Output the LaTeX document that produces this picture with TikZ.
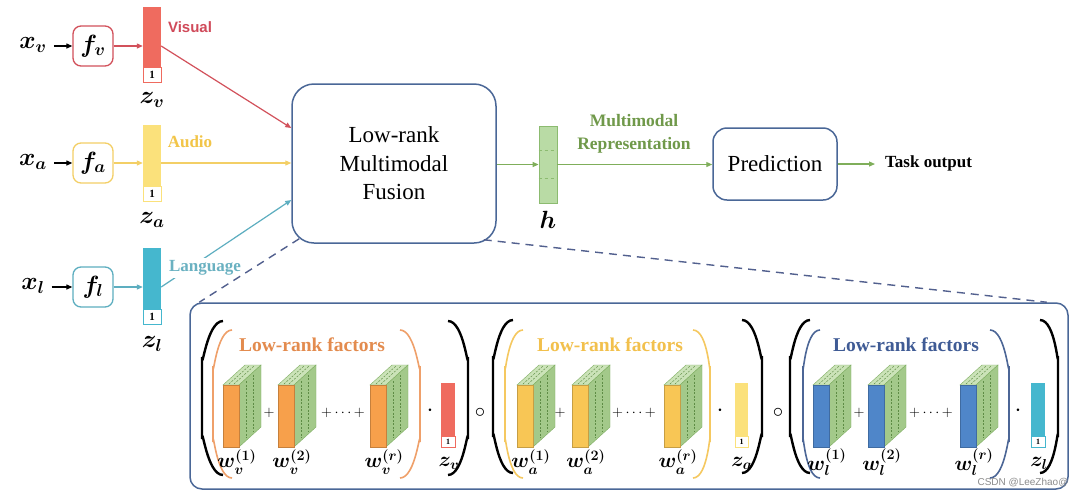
\documentclass[tikz,border=0pt]{standalone}
\usepackage{fontspec}
\setmainfont{Liberation Serif}
\newfontfamily\lsans{Liberation Sans}
\usetikzlibrary{arrows.meta,calc}
\definecolor{vbar}{HTML}{EF6B5F}
\definecolor{vline}{HTML}{D2515B}
\definecolor{vtxt}{HTML}{D04A5A}
\definecolor{abar}{HTML}{FBE17B}
\definecolor{aline}{HTML}{F3CF66}
\definecolor{atxt}{HTML}{F2C548}
\definecolor{lbar}{HTML}{45B7CE}
\definecolor{lline}{HTML}{5DAEC0}
\definecolor{ltxt}{HTML}{6AB1C1}
\definecolor{boxblue}{HTML}{4A6797}
\definecolor{dashc}{HTML}{52608E}
\definecolor{gfill}{HTML}{B9DBA5}
\definecolor{gedge}{HTML}{8CBB70}
\definecolor{gline}{HTML}{7FAE5A}
\definecolor{gtxt}{HTML}{70994A}
\definecolor{cubetop}{HTML}{CBE3B8}
\definecolor{cubeside}{HTML}{A3C98A}
\definecolor{cubeedge}{HTML}{7FAE62}
\definecolor{cubedsh}{HTML}{5E8C45}
\definecolor{ofront}{HTML}{F7A04B}
\definecolor{opar}{HTML}{EFA06A}
\definecolor{otxt}{HTML}{E38B4E}
\definecolor{yfront}{HTML}{F8C655}
\definecolor{ypar}{HTML}{F5C860}
\definecolor{ytxt}{HTML}{F2C04C}
\definecolor{bfront}{HTML}{4F86C9}
\definecolor{bpar}{HTML}{4C6696}
\definecolor{btxt}{HTML}{3F5B95}
\newcommand{\lrcube}[2]{%
 \path[fill=cubetop, draw=cubeedge, line width=.4pt] (#1,385) -- (#1+16,385) -- (#1+38,365) -- (#1+22,365) -- cycle;
 \path[fill=cubeside, draw=cubeedge, line width=.4pt] (#1+16,385) -- (#1+38,365) -- (#1+38,427) -- (#1+16,447) -- cycle;
 \foreach \f in {0.33,0.67} {\draw[cubedash] (#1+16+22*\f,388-20*\f) -- (#1+16+22*\f,445-20*\f);}
 \draw[cubedash] (#1+6,384) -- (#1+26,366);
 \draw[cubedash] (#1+11,384) -- (#1+31,366);
 \path[fill=#2, draw=#2!80!black, line width=.4pt] (#1,385) rectangle (#1+16,447);
}
\newcommand{\lparen}[5]{\draw[#5] (#2,#3) to[out=180,in=-90] (#1,#3+36) -- (#1,#4-36) to[out=90,in=180] (#2,#4);}
\newcommand{\rparen}[5]{\draw[#5] (#2,#3) to[out=0,in=-90] (#1,#3+36) -- (#1,#4-36) to[out=90,in=0] (#2,#4);}
\begin{document}
\begin{tikzpicture}[x=1pt,y=-1pt,
  mlab/.style={font=\fontsize{25}{25}\selectfont\boldmath, inner sep=0pt},
  fbox/.style={draw, rounded corners=8pt, line width=1.3pt, minimum width=40pt, minimum height=40pt, inner sep=0pt, fill=white, font=\fontsize{25}{25}\selectfont\boldmath},
  bar/.style={minimum width=18pt, inner sep=0pt},
  one/.style={draw, fill=white, line width=.7pt, minimum width=18pt, minimum height=15pt, inner sep=0pt, font=\bfseries\fontsize{11}{11}\selectfont},
  arr/.style={-{Triangle[length=6pt,width=5pt]}, line width=1.2pt},
  modlab/.style={font=\bfseries\fontsize{17}{17}\selectfont, inner sep=2pt},
  bigbox/.style={draw=boxblue, line width=1.5pt, fill=white},
  dashline/.style={draw=dashc, line width=1.4pt, dash pattern=on 8pt off 6pt},
  cubedash/.style={draw=cubedsh, line width=.5pt, dash pattern=on 2pt off 1.5pt},
  wlab/.style={font=\fontsize{20}{20}\selectfont\boldmath, inner sep=0pt},
  oplab/.style={font=\fontsize{15}{15}\selectfont, inner sep=0pt},
  smallone/.style={draw, fill=white, line width=.6pt, minimum width=14pt, minimum height=11pt, inner sep=0pt, font=\bfseries\fontsize{8}{8}\selectfont},
  facttxt/.style={font=\bfseries\fontsize{19.5}{19.5}\selectfont, inner sep=0pt},
  blackpar/.style={line width=2.4pt, black},
  colpar/.style={line width=1.6pt}
]
\useasboundingbox[fill=white] (0,0) rectangle (1080,499);

% ---------- left column ----------
\node[mlab] (xv) at (33,45) {$x_v$};
\node[fbox, draw=vline] (fv) at (93,46) {$f_v$};
\node[bar, fill=vbar, minimum height=60pt] (zv) at (152,37) {};
\node[one, draw=vbar] (zv1) at (152,74.5) {1};
\node[mlab] (zvl) at (152,100) {$z_v$};
\node[font=\lsans\bfseries\fontsize{15}{15}\selectfont, text=vtxt] (vis) at (190,27) {Visual};

\node[mlab] (xa) at (33,162) {$x_a$};
\node[fbox, draw=aline] (fa) at (93,163) {$f_a$};
\node[bar, fill=abar, minimum height=61pt] (za) at (152,155.5) {};
\node[one, draw=abar] (za1) at (152,193.5) {1};
\node[mlab] (zal) at (152,220) {$z_a$};
\node[modlab, text=atxt] (aud) at (190,142) {Audio};

\node[mlab] (xl) at (33,286) {$x_l$};
\node[fbox, draw=lline] (fl) at (93,287) {$f_l$};
\node[bar, fill=lbar, minimum height=61pt] (zl) at (152,278.5) {};
\node[one, draw=lbar] (zl1) at (152,316.5) {1};
\node[mlab] (zll) at (152,344) {$z_l$};

% ---------- fusion ----------
\node[draw=boxblue, line width=1.5pt, rounded corners=22pt, minimum width=204pt, minimum height=159pt, align=center, font=\fontsize{23}{28.5}\selectfont] (fusion) at (394,163.5) {Low-rank\\Multimodal\\Fusion};

\draw[arr, shorten <=7pt] (xv.east |- fv.west) -- (fv.west);
\draw[arr, shorten <=7pt] (xa.east |- fa.west) -- (fa.west);
\draw[arr, shorten <=7pt] (xl.east |- fl.west) -- (fl.west);
\draw[arr, vline] (fv.east) -- (fv.east -| zv.west);
\draw[arr, aline] (fa.east) -- (fa.east -| za.west);
\draw[arr, lline] (fl.east) -- (fl.east -| zl.west);
\draw[arr, vline] (fv.east -| zv.east) -- ($(fusion.west)+(0,-35.5)$);
\draw[arr, aline] (fa.east -| za.east) -- (fa.east -| fusion.west);
\draw[arr, lline] (fl.east -| zl.east) -- ($(fusion.west)+(0,36.5)$);
\node[modlab, text=ltxt, fill=white, inner sep=3pt] (lang) at (205,268) {Language};

% ---------- h and prediction ----------
\node[bar, fill=gfill, draw=gedge, line width=.8pt, minimum height=77pt] (hb) at (548,164.5) {};
\draw[gedge, dashed, line width=.8pt] ($(hb.north west)+(0,25)$) -- ($(hb.north east)+(0,25)$);
\draw[gedge, dashed, line width=.8pt] ($(hb.north west)+(0,53)$) -- ($(hb.north east)+(0,53)$);
\node[mlab] (hl) at (548,220) {$h$};
\node[draw=boxblue, line width=1.5pt, rounded corners=14pt, minimum width=124pt, minimum height=72pt, font=\fontsize{23}{23}\selectfont] (pred) at (775,164) {Prediction};
\node[font=\bfseries\fontsize{17}{17}\selectfont, anchor=west, inner sep=0pt] (task) at (885,163) {Task output};
\node[font=\bfseries\fontsize{17.5}{23}\selectfont, text=gtxt, align=center] (mmr) at (634,134) {Multimodal\\Representation};
\draw[arr, gline] (fusion.east |- hb.west) -- (hb.west);
\draw[arr, gline] (hb.east) -- (hb.east -| pred.west);
\draw[arr, gline] (pred.east) -- ($(task.west)+(-10,1)$);

% ---------- bottom box ----------
\node[bigbox, rounded corners=12pt, minimum width=878pt, minimum height=186pt] (big) at (629,396) {};
\draw[dashline] ($(fusion.south west)+(8,-5)$) -- ($(big.north west)+(10,0)$);
\draw[dashline] ($(fusion.south east)+(-13,-4)$) -- ($(big.north east)+(-22,0)$);

% group v
\lparen{202}{223}{321}{475}{blackpar}
\rparen{468}{448}{321}{475}{blackpar}
\lparen{213}{232}{330}{478}{colpar, opar}
\rparen{420}{400}{330}{478}{colpar, opar}
\node[facttxt, text=otxt] (fv0) at (312,345) {Low-rank factors};
\lrcube{223}{ofront}\lrcube{278}{ofront}\lrcube{370}{ofront}
\node[oplab] (pv1) at (269,413) {$+$};
\node[oplab] (pv2) at (343,413) {${+}\cdots{+}$};
\node[oplab, font=\fontsize{24}{24}\selectfont] (dv) at (430,411) {$\cdot$};
\path[fill=vbar] (441,383) rectangle (455,436);
\node[smallone, draw=vbar] (bv1) at (448,441.5) {1};
\node[wlab] (wv1) at (237,462) {$w_v^{(1)}$};
\node[wlab] (wv2) at (292,462) {$w_v^{(2)}$};
\node[wlab] (wv3) at (384,462) {$w_v^{(r)}$};
\node[wlab] (zvb) at (449,463) {$z_v$};
\node[oplab, font=\fontsize{20}{20}\selectfont] (c1) at (480,413) {$\circ$};

% group a
\lparen{493}{513}{320}{473}{blackpar}
\rparen{762}{742}{320}{473}{blackpar}
\lparen{505}{523}{330}{478}{colpar, ypar}
\rparen{710}{693}{330}{478}{colpar, ypar}
\node[facttxt, text=ytxt] (fa0) at (610,345) {Low-rank factors};
\lrcube{517}{yfront}\lrcube{572}{yfront}\lrcube{664}{yfront}
\node[oplab] (pa1) at (560,413) {$+$};
\node[oplab] (pa2) at (634,413) {${+}\cdots{+}$};
\node[oplab, font=\fontsize{24}{24}\selectfont] (da) at (720,411) {$\cdot$};
\path[fill=abar] (735,383) rectangle (748,436);
\node[smallone, draw=abar, minimum width=13pt] (ba1) at (741.5,441.5) {1};
\node[wlab] (wa1) at (531,462) {$w_a^{(1)}$};
\node[wlab] (wa2) at (586,462) {$w_a^{(2)}$};
\node[wlab] (wa3) at (678,462) {$w_a^{(r)}$};
\node[wlab] (zab) at (742,463) {$z_a$};
\node[oplab, font=\fontsize{20}{20}\selectfont] (c2) at (778,413) {$\circ$};

% group l
\lparen{790}{810}{320}{473}{blackpar}
\rparen{1058}{1040}{320}{473}{blackpar}
\lparen{803}{820}{330}{478}{colpar, bpar}
\rparen{1009}{990}{330}{478}{colpar, bpar}
\node[facttxt, text=btxt] (fl0) at (906,345) {Low-rank factors};
\lrcube{813}{bfront}\lrcube{868}{bfront}\lrcube{960}{bfront}
\node[oplab] (pl1) at (859,413) {$+$};
\node[oplab] (pl2) at (931,413) {${+}\cdots{+}$};
\node[oplab, font=\fontsize{24}{24}\selectfont] (dl) at (1018,411) {$\cdot$};
\path[fill=lbar] (1031,383) rectangle (1045,436);
\node[smallone, draw=lbar] (bl1) at (1038,441.5) {1};
\node[wlab] (wl1) at (827,462) {$w_l^{(1)}$};
\node[wlab] (wl2) at (882,462) {$w_l^{(2)}$};
\node[wlab] (wl3) at (974,462) {$w_l^{(r)}$};
\node[wlab] (zlb) at (1039,463) {$z_l$};

\node[font=\lsans\fontsize{10}{10}\selectfont, text=black!45, inner sep=0pt] (wm) at (1023,483) {CSDN @LeeZhao@};
\end{tikzpicture}
\end{document}
